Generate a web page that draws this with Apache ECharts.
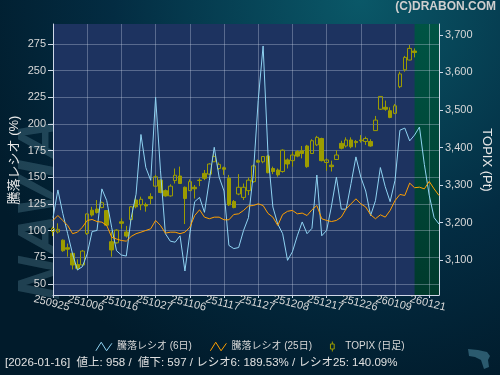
<!DOCTYPE html>
<html lang="ja">
  <head>
    <meta charset="UTF-8" />
    <title>騰落レシオ</title>
    <script src="https://cdn.jsdelivr.net/npm/echarts/dist/echarts.min.js"></script>
    <style>
      html, body { margin: 0; padding: 0; background: #021c2c; }
      #main { width: 500px; height: 375px; }
    </style>
  </head>
  <body>
    <div id="main"></div>
    <script>
      // 日付 (営業日)
      var dates = ['250925','250926','250929','250930','251001','251002','251003','251006','251007','251008',
        '251009','251010','251014','251015','251016','251017','251020','251021','251022','251023',
        '251024','251027','251028','251029','251030','251031','251104','251105','251106','251107',
        '251110','251111','251112','251113','251114','251117','251118','251119','251120','251121',
        '251125','251126','251127','251128','251201','251202','251203','251204','251205','251208',
        '251209','251210','251211','251212','251215','251216','251217','251218','251219','251222',
        '251223','251224','251225','251226','251229','251230','260105','260106','260107','260108',
        '260109','260113','260114','260115','260116','260119','260120','260121','260122','260123'];

      // 騰落レシオ (6日)
      var ratio6 = [112,138,116,97,78,63,66,78,99,100,
        139,128,103,81,77,76,112,134,190,159,
        147,225,156,97,90,89,95,62,97,127,
        131,117,147,178,150,137,86,83,84,100,
        112,153,222,273,172,122,106,97,72,80,
        95,108,97,102,152,95,100,123,150,120,
        120,144,169,150,137,114,128,159,141,127,
        147,194,196,184,189.5,197,162,133,112,106];

      // 騰落レシオ (25日)
      var ratio25 = [109.4,114,109.4,104.7,97,98.4,103,109.4,110.3,108.4,
        107.8,104.7,93.8,92,90.6,90,94.4,97,98.4,100,
        101.6,109.4,104.7,97.5,98.4,98.4,97,98.4,103,114,
        119.4,112.5,111,112.5,112.5,110,110,115,115.6,118.8,
        123,123.4,125,123.4,116,112.5,104.7,115,118,118.8,
        115.6,116.3,114,119.4,123.4,111,109.4,108.4,109.4,112.5,
        120.3,125,129.7,125,122,114.7,111,114.7,112.5,118.8,
        128,133.8,132.8,144.4,140.1,140.6,139,146,139,132.8];

      // TOPIX 日足
      var topixOpen = [3176,3175,3153,3133,3118,3088,3087,3171,3233,3236,
        3240,3232,3149,3146,3202,3175,3208,3260,3247,3248,
        3269,3297,3313,3285,3271,3312,3324,3294,3285,3294,
        3313,3331,3329,3362,3344,3346,3318,3256,3276,3267,
        3285,3309,3365,3362,3377,3344,3340,3336,3367,3365,
        3389,3391,3404,3384,3407,3424,3360,3353,3368,3411,
        3404,3420,3416,3420,3416,3416,3445,3502,3507,3498,
        3491,3562,3607,3633,3657];
      var topixClose = [3184,3182,3125,3129,3087,3078,3124,3223,3220,3227,
        3253,3193,3127,3180,3198,3164,3242,3242,3262,3244,
        3264,3322,3280,3271,3297,3326,3304,3264,3309,3290,
        3312,3318,3356,3376,3355,3342,3247,3240,3294,3294,
        3313,3351,3361,3376,3333,3336,3327,3393,3356,3380,
        3377,3384,3349,3418,3427,3365,3367,3349,3380,3398,
        3420,3402,3413,3418,3424,3404,3473,3536,3502,3480,
        3511,3596,3640,3664,3653];
      var topixLow = [3164,3171,3122,3109,3075,3073,3086,3167,3216,3224,
        3238,3191,3109,3144,3184,3160,3202,3238,3233,3229,
        3249,3294,3278,3269,3269,3304,3303,3196,3285,3264,
        3297,3313,3327,3362,3340,3327,3244,3238,3273,3260,
        3273,3306,3360,3358,3331,3329,3322,3333,3344,3349,
        3374,3371,3346,3383,3404,3363,3338,3336,3367,3395,
        3400,3398,3400,3413,3407,3402,3444,3500,3498,3478,
        3489,3558,3602,3632,3640];
      var topixHigh = [3189,3198,3155,3144,3118,3102,3127,3224,3242,3260,
        3256,3233,3176,3182,3211,3191,3244,3271,3269,3253,
        3278,3327,3315,3288,3302,3344,3349,3296,3315,3300,
        3318,3340,3358,3384,3360,3349,3327,3260,3329,3304,
        3320,3355,3368,3377,3380,3349,3344,3395,3371,3389,
        3393,3404,3407,3422,3431,3426,3371,3365,3393,3418,
        3427,3427,3420,3433,3429,3422,3484,3537,3525,3507,
        3516,3602,3644,3673,3664];

      var leftTicks = [50, 75, 100, 125, 150, 175, 200, 225, 250, 275];
      var rightTicks = [3100, 3200, 3300, 3400, 3500, 3600, 3700];

      var fontFam = '"Liberation Sans", "Noto Sans CJK JP", sans-serif';
      var textColor = '#d8d8d8';
      var c6 = '#8fd3f2';
      var c25 = '#ffa000';
      var cTopix = '#9c9c00';
      var gridColor = 'rgba(200,210,230,0.35)';
      var axisColor = '#d0d8e8';

      var candleData = dates.map(function (d, i) {
        if (topixOpen[i] == null) return '-';
        return [topixOpen[i], topixClose[i], topixLow[i], topixHigh[i]];
      });

      // 目盛りは7営業日ごと、ラベルは重なり回避のため2本の軸に交互に振り分け
      function every7(i) { return i % 7 === 0; }
      function evenLabel(i) { return i % 14 === 0; }
      function oddLabel(i) { return i % 14 === 7; }

      var labelStyle = {
        rotate: -14, align: 'center', verticalAlign: 'top', margin: 3,
        color: textColor, fontSize: 11, fontFamily: fontFam,
        showMinLabel: true, showMaxLabel: true
      };

      var chart = echarts.init(document.getElementById('main'));

      var option = {
        animation: false,
        backgroundColor: new echarts.graphic.RadialGradient(0.72, 0, 1.1, [
          { offset: 0, color: '#0a5868' },
          { offset: 0.6, color: '#032c42' },
          { offset: 1, color: '#011b2b' }
        ]),
        textStyle: { fontFamily: fontFam },
        grid: {
          left: 53, right: 61, top: 24, bottom: 80,
          show: true, backgroundColor: '#1d3360', borderWidth: 0,
          outerBoundsMode: 'none'
        },
        legend: {
          left: 'center', top: 336,
          itemWidth: 16, itemHeight: 10, itemGap: 18,
          textStyle: { color: textColor, fontSize: 10, fontFamily: fontFam },
          data: [
            { name: '騰落レシオ (6日)', icon: 'path://M0,10 L5,2 L10,10 L15,3',
              itemStyle: { color: 'rgba(0,0,0,0)', borderColor: c6, borderWidth: 1 } },
            { name: '騰落レシオ (25日)', icon: 'path://M0,10 L5,2 L10,10 L15,3',
              itemStyle: { color: 'rgba(0,0,0,0)', borderColor: c25, borderWidth: 1 } },
            { name: 'TOPIX (日足)', icon: 'path://M4,0 L4,4 M1,4 L7,4 L7,12 L1,12 Z M4,12 L4,16',
              itemStyle: { color: 'rgba(0,0,0,0)', borderColor: cTopix, borderWidth: 1 } }
          ]
        },
        xAxis: [
          {
            type: 'category', data: dates, boundaryGap: false, z: 3, position: 'bottom',
            axisLine: { lineStyle: { color: axisColor } },
            axisTick: { interval: every7, length: 3, lineStyle: { color: axisColor } },
            axisLabel: Object.assign({ interval: evenLabel }, labelStyle),
            splitLine: { show: true, interval: every7, lineStyle: { color: gridColor } }
          },
          {
            type: 'category', data: dates, boundaryGap: false, z: 3, position: 'bottom', offset: 0,
            axisLine: { show: false },
            axisTick: { show: false },
            axisLabel: Object.assign({ interval: oddLabel }, labelStyle),
            splitLine: { show: false }
          }
        ],
        yAxis: [
          {
            type: 'value', min: 39.5, max: 293.6, position: 'left', z: 3,
            axisLine: { show: true, lineStyle: { color: axisColor } },
            axisTick: { show: true, length: 5, customValues: leftTicks, lineStyle: { color: axisColor } },
            axisLabel: { customValues: leftTicks, color: textColor, fontSize: 11, margin: 7, fontFamily: fontFam },
            splitLine: { show: true, lineStyle: { color: gridColor } }
          },
          {
            type: 'value', min: 3007, max: 3729, position: 'right', z: 3,
            axisLine: { show: true, lineStyle: { color: axisColor } },
            axisTick: { show: true, length: 4, customValues: rightTicks, lineStyle: { color: axisColor } },
            axisLabel: {
              customValues: rightTicks, color: textColor, fontSize: 11, margin: 6, fontFamily: fontFam,
              formatter: function (v) { return String(v).replace(/(\d)(\d{3})$/, '$1,$2'); }
            },
            splitLine: { show: false }
          }
        ],
        series: [
          {
            name: 'future', type: 'line', data: [], z: 0, silent: true,
            markArea: {
              silent: true, z: 0,
              itemStyle: {
                color: new echarts.graphic.LinearGradient(0, 0, 0, 1, [
                  { offset: 0, color: '#005444' },
                  { offset: 1, color: '#003a2c' }
                ])
              },
              data: [[{ xAxis: '260116' }, { xAxis: '260123' }]]
            }
          },
          {
            name: 'TOPIX (日足)', type: 'candlestick', yAxisIndex: 1, data: candleData,
            barWidth: 4, z: 4,
            itemStyle: {
              color: 'rgba(0,0,0,0)', borderColor: cTopix,
              color0: cTopix, borderColor0: cTopix, borderWidth: 1
            }
          },
          {
            name: '騰落レシオ (6日)', type: 'line', data: ratio6, symbol: 'none', z: 5,
            lineStyle: { color: c6, width: 1 }, itemStyle: { color: c6 }
          },
          {
            name: '騰落レシオ (25日)', type: 'line', data: ratio25, symbol: 'none', z: 5,
            lineStyle: { color: c25, width: 1 }, itemStyle: { color: c25 }
          }
        ],
        graphic: [
          {
            type: 'text', x: 12, y: 300, rotation: Math.PI / 2, silent: true, z: -1,
            style: {
              text: 'NAVIA', fill: 'rgba(110,160,180,0.28)', align: 'left', verticalAlign: 'top',
              font: 'italic bold 60px "Liberation Sans", sans-serif'
            }
          },
          {
            type: 'text', right: 4, top: 1,
            style: { text: '(C)DRABON.COM', fill: '#cfcfcf', font: 'bold 12px "Liberation Sans", sans-serif' }
          },
          {
            type: 'text', x: 14, y: 160, rotation: Math.PI / 2,
            style: {
              text: '騰落レシオ (%)', fill: '#e8e8e8', align: 'center', verticalAlign: 'middle',
              font: '13px "Liberation Sans", "Noto Sans CJK JP", sans-serif'
            }
          },
          {
            type: 'text', x: 487, y: 160, rotation: -Math.PI / 2,
            style: {
              text: 'TOPIX (Pt)', fill: '#e8e8e8', align: 'center', verticalAlign: 'middle',
              font: '13px "Liberation Sans", "Noto Sans CJK JP", sans-serif'
            }
          },
          {
            type: 'text', left: 5, top: 357,
            style: {
              text: '[2026-01-16]  値上: 958 /  値下: 597 / レシオ6: 189.53% / レシオ25: 140.09%',
              fill: '#e0e0e0', font: '11.5px "Liberation Sans", "Noto Sans CJK JP", sans-serif'
            }
          },
          {
            type: 'polygon', silent: true,
            shape: { points: [[468, 349], [478, 350], [487, 352], [490, 356], [488, 360], [489, 367], [484, 369], [481, 360], [475, 357], [469, 356]] },
            style: { fill: '#2b5a6e' }
          }
        ]
      };

      chart.setOption(option);
    </script>
  </body>
</html>
